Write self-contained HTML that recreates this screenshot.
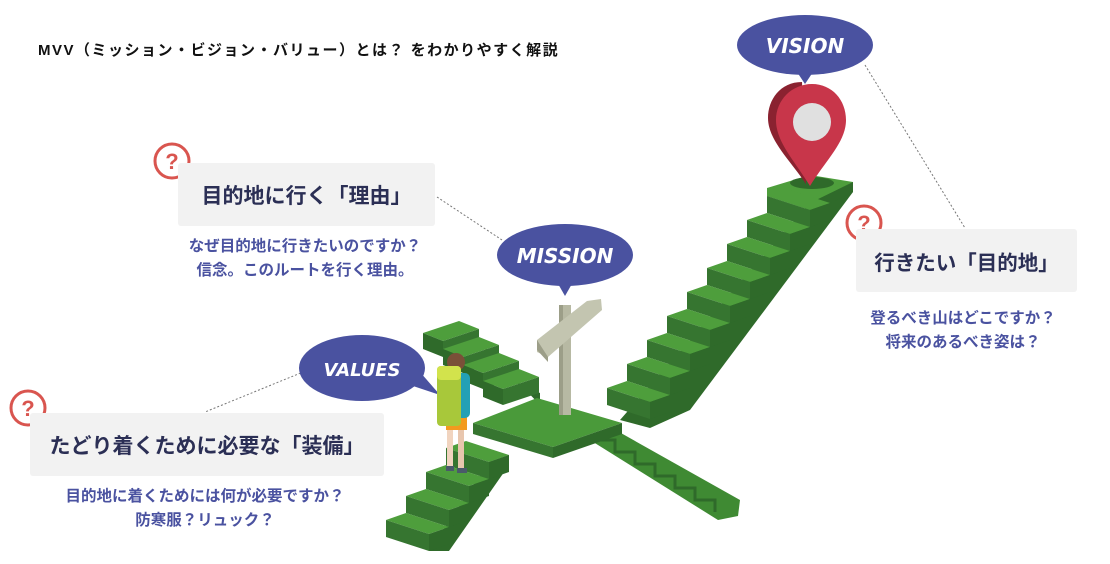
<!DOCTYPE html>
<html><head><meta charset="utf-8"><style>
html,body{margin:0;padding:0;background:#fff;}
body{width:1110px;height:564px;position:relative;overflow:hidden;font-family:"Liberation Sans","Noto Sans CJK JP",sans-serif;}
.t{position:absolute;white-space:nowrap;}
.box{position:absolute;background:#f2f2f2;border-radius:3px;color:#2b2f55;font-weight:bold;display:flex;align-items:center;justify-content:center;}
.sub{position:absolute;color:#4a52a0;font-weight:bold;font-size:15.5px;line-height:24px;text-align:center;white-space:nowrap;}
</style></head><body>
<svg width="1110" height="564" style="position:absolute;left:0;top:0">
<defs>
<g id="st"><polygon points="0,0 20,-7 63,7 43,14" fill="#4e9e3c"/><polygon points="0,0 43,14 43,31 0,17" fill="#367530"/><polygon points="43,14 63,7 63,24 43,31" fill="#2f6a2a"/></g>
<g id="sb"><polygon points="0,0 36,-12 56,-4 20,8" fill="#4e9e3c"/><polygon points="20,8 56,-4 56,12 20,24" fill="#367530"/><polygon points="0,0 20,8 20,24 0,16" fill="#2f6a2a"/></g>
</defs>
<g stroke="#777" stroke-width="1" stroke-dasharray="2,2" fill="none">
<line x1="437" y1="197" x2="502" y2="240"/>
<line x1="308" y1="370" x2="205" y2="412"/>
<line x1="865" y1="65" x2="965" y2="228"/>
</g>
<!-- lower right stair -->
<polygon points="590,440 612,428 740,500 738,516 718,520" fill="#3f8a33"/>
<polyline points="600,440 615,440 615,452 635,452 635,464 655,464 655,476 675,476 675,488 695,488 695,500 715,500 715,512" fill="none" stroke="#2f6a2a" stroke-width="3"/>
<!-- back-left stair -->
<polygon points="459,321 519,385 540,393 540,405 479,341" fill="#2f6a2a"/>
<use href="#sb" x="423" y="333"/><use href="#sb" x="443" y="349"/><use href="#sb" x="463" y="365"/><use href="#sb" x="483" y="381"/>
<!-- upper stair wall -->
<polygon points="853,182 853,192 690,410 650,428 620,420 810,203" fill="#2f6a2a"/>
<polygon points="767,188 810,175 853,182 853,190 810,210 767,196" fill="#4e9e3c"/>
<polygon points="810,203 853,182 853,192 810,213" fill="#2f6a2a"/>
<use href="#st" x="767" y="196"/><use href="#st" x="747" y="220"/><use href="#st" x="727" y="244"/><use href="#st" x="707" y="268"/><use href="#st" x="687" y="292"/><use href="#st" x="667" y="316"/><use href="#st" x="647" y="340"/><use href="#st" x="627" y="364"/><use href="#st" x="607" y="388"/>
<!-- platform -->
<polygon points="473,423 537,398 622,423 553,447" fill="#4a9a3a"/>
<polygon points="473,423 553,447 553,458 473,434" fill="#367530"/>
<polygon points="553,447 622,423 622,434 553,458" fill="#2f6a2a"/>
<!-- lower-left stair -->
<polygon points="509,455 509,465 449,551 429,551 489,462" fill="#2f6a2a"/>
<use href="#st" x="446" y="448"/><use href="#st" x="426" y="472"/><use href="#st" x="406" y="496"/><use href="#st" x="386" y="520"/>
<!-- signpost -->
<rect x="559" y="305" width="12" height="110" fill="#b7b9a3"/>
<rect x="559" y="305" width="4" height="110" fill="#9c9e88"/>
<polygon points="537,340 587,301 601,299 602,310 548,357 537,352" fill="#c3c5b0"/>
<polygon points="537,340 548,357 548,362 537,350" fill="#9c9e88"/>
<!-- pin -->
<ellipse cx="812" cy="183" rx="22" ry="6" fill="#2f6a2a"/>
<path d="M802,82 C780,82 768,100 768,118 C768,140 790,160 806,184 Z" fill="#8a2230"/>
<path d="M812,84 C832,84 846,100 846,120 C846,142 826,160 810,186 C794,160 776,142 776,120 C776,100 792,84 812,84 Z" fill="#c8364a"/>
<circle cx="812" cy="122" r="19" fill="#e0e0e0"/>
<g fill="#4a52a0">
<ellipse cx="805" cy="45" rx="68" ry="30"/><polygon points="797,72 813,72 805,84"/>
<ellipse cx="565" cy="255" rx="68" ry="31"/><polygon points="557,282 573,282 565,296"/>
<ellipse cx="362" cy="368" rx="63" ry="33"/><polygon points="410,385 420,372 440,395"/>
</g>
<g fill="#fff" font-family="'DejaVu Sans',sans-serif" font-weight="bold" font-style="italic" text-anchor="middle">
<text x="805" y="53" font-size="20">VISION</text>
<text x="565" y="263" font-size="20">MISSION</text>
<text x="362" y="376" font-size="18">VALUES</text>
</g>
<!-- hiker -->
<rect x="447" y="425" width="6" height="45" fill="#f1d4bf"/><rect x="458" y="425" width="6" height="45" fill="#e8c6ae"/>
<rect x="446" y="415" width="21" height="15" fill="#f39a1e"/>
<rect x="452" y="373" width="18" height="45" rx="5" fill="#23a0b5"/>
<circle cx="456" cy="362" r="9" fill="#7a5038"/>
<rect x="437" y="366" width="24" height="60" rx="4" fill="#a8c83a"/>
<rect x="437" y="366" width="24" height="14" rx="4" fill="#d2e34c"/>
<rect x="446" y="466" width="8" height="5" fill="#4a5a6a"/><rect x="457" y="468" width="10" height="5" fill="#4a5a6a"/>
<g fill="#fff" stroke="#d9554f" stroke-width="3">
<circle cx="172" cy="161" r="17"/><circle cx="28" cy="408" r="17"/><circle cx="864" cy="223" r="17"/>
</g>
<g fill="#d9554f" font-size="22" font-weight="bold" text-anchor="middle" font-family="'Liberation Sans',sans-serif">
<text x="172" y="169">?</text><text x="28" y="416">?</text><text x="864" y="231">?</text>
</g>
</svg>
<div class="t" style="left:38px;top:39px;font-size:15px;letter-spacing:1.5px;font-weight:bold;color:#111;">MVV（ミッション・ビジョン・バリュー）とは？ をわかりやすく解説</div>
<div class="box" style="left:178px;top:163px;width:257px;height:63px;font-size:21px;">目的地に行く「理由」</div>
<div class="sub" style="left:155px;top:235px;width:300px;">なぜ目的地に行きたいのですか？<br>信念。このルートを行く理由。</div>
<div class="box" style="left:30px;top:413px;width:354px;height:63px;font-size:21px;">たどり着くために必要な「装備」</div>
<div class="sub" style="left:55px;top:485px;width:300px;">目的地に着くためには何が必要ですか？<br>防寒服？リュック？</div>
<div class="box" style="left:856px;top:229px;width:221px;height:63px;font-size:20.5px;">行きたい「目的地」</div>
<div class="sub" style="left:813px;top:307px;width:300px;">登るべき山はどこですか？<br>将来のあるべき姿は？</div>
</body></html>
